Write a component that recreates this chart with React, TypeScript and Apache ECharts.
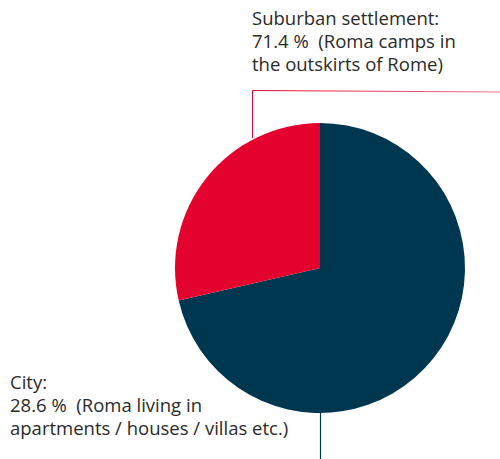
import React, { useEffect, useRef } from "react";
import * as echarts from "echarts";

const categories = ["City", "Suburban settlement"];
const values = [71.4, 28.6];
const colors = ["#003750", "#E4032E"];
const labelTexts = [
  "City:\n28.6 %  (Roma living in\napartments / houses / villas etc.)",
  "Suburban settlement:\n71.4 %  (Roma camps in\nthe outskirts of Rome)",
];

export default function App() {
  const ref = useRef<HTMLDivElement>(null);
  useEffect(() => {
    if (!ref.current) return;
    const chart = echarts.init(ref.current, null, { renderer: "svg" });
    const font = "'Open Sans', sans-serif";
    chart.setOption({
      animation: false,
      series: [
        {
          type: "pie",
          center: [320, 268],
          radius: 145,
          startAngle: 90,
          clockwise: true,
          label: { show: false },
          labelLine: { show: false },
          emphasis: { disabled: true },
          data: categories.map((c, i) => ({
            name: c,
            value: values[i],
            itemStyle: { color: colors[i] },
          })),
        },
      ],
      graphic: [
        {
          type: "polyline",
          shape: { points: [[252.5, 138], [252.5, 90.5], [500, 92]] },
          style: {
            fill: "none",
            lineWidth: 1,
            stroke: new echarts.graphic.LinearGradient(0, 0, 1, 0, [
              { offset: 0, color: "#E4032E" },
              { offset: 1, color: "#EE7A92" },
            ]),
          },
        },
        {
          type: "line",
          shape: { x1: 320.5, y1: 412, x2: 320.5, y2: 459 },
          style: { stroke: "#003750", lineWidth: 1.2 },
        },
        {
          type: "text",
          x: 252,
          y: 6,
          style: {
            text: labelTexts[1],
            font: `18.5px ${font}`,
            fill: "#2a2a2a",
            lineHeight: 23,
            verticalAlign: "top",
          },
        },
        {
          type: "text",
          x: 10,
          y: 370,
          style: {
            text: labelTexts[0],
            font: `18.5px ${font}`,
            fill: "#2a2a2a",
            lineHeight: 23,
            verticalAlign: "top",
          },
        },
      ],
    });
    return () => chart.dispose();
  }, []);
  return <div ref={ref} style={{ width: 500, height: 459, position: "absolute", left: 0, top: 0 }} />;
}
